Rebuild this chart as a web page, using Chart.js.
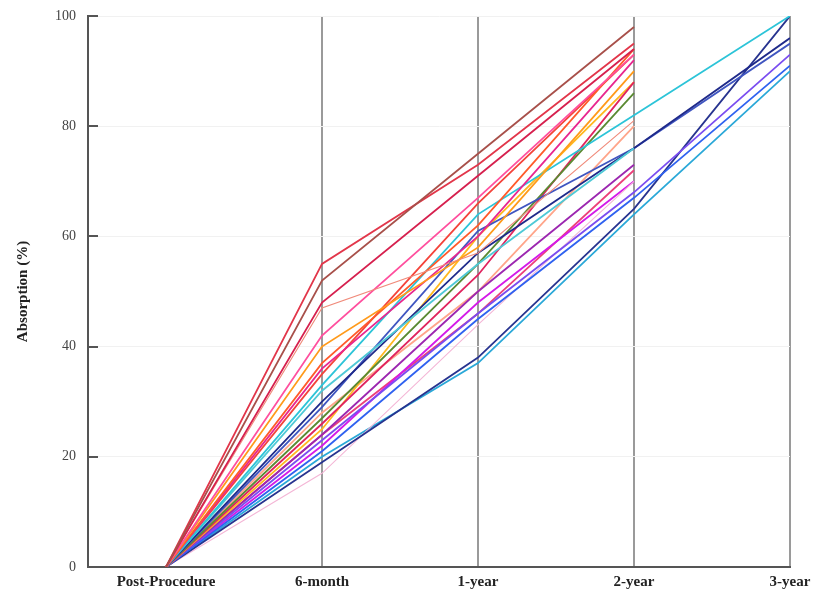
<!DOCTYPE html>
<html>
<head>
<meta charset="utf-8">
<script src="https://cdn.jsdelivr.net/npm/chart.js@4/dist/chart.umd.min.js"></script>
<style>
  html, body { margin: 0; padding: 0; background: #fff; }
  #wrap { width: 820px; height: 599px; }
</style>
</head>
<body>
<div id="wrap"><canvas id="myChart"></canvas></div>
<script>
// time points along the x axis
const timepoints = ['Post-Procedure', '6-month', '1-year', '2-year', '3-year']
const yTicks = [0, 20, 40, 60, 80, 100]

// absorption (%) per patient at each follow-up, everyone starts at 0
const postProc  = [0, 0, 0, 0, 0, 0, 0, 0, 0, 0, 0, 0, 0, 0, 0, 0, 0, 0, 0, 0, 0, 0, 0, 0, 0]
const sixMonth  = [52, 55, 48, 47, 42, 40, 37, 36, 33, 32, 30, 29, 27, 26, 25, 24, 23, 21, 19, 17, 22, 24, 20, 35, 28]
const oneYear   = [75, 73, 71, 57, 67, 58, 62, 60, 64, 55, 57, 61, 55, 53, 60, 50, 46, 45, 38, 44, 48, 46, 37, 66, 50]
const twoYear   = [98, 95, 94, 81, 93, 90, 94, 92, 82, 76, 76, 76, 86, 88, 88, 73, 68, 67, 65, 70, 70, 72, 64, 93, 80]
const threeYear = [null, null, null, null, null, null, null, null, 100, null, 96, 95, null, null, null, null, 93, 91, 100, null, null, null, 90, null, null]

const colors = ['#a8504a', '#e2364a', '#d6204e', '#f08a7a', '#ff4f9e', '#ff9a1a', '#ff5a2a', '#e8268f',
                '#2cc4d8', '#4fc9d6', '#1f2a8a', '#3f55c0', '#5a8a32', '#e0245e', '#ffb81f', '#9c27b0',
                '#7a4df0', '#2f62f0', '#27338f', '#f4b6d6', '#d41ae8', '#ec407a', '#2aa8d8', '#f4433a', '#ffa58a']

let datasets = []
for (let i = 0; i < colors.length; i++) {
  const vals = [postProc[i], sixMonth[i], oneYear[i], twoYear[i], threeYear[i]]
  datasets.push({
    label: 'P' + (i + 1),
    data: vals.map((v, k) => ({ x: k, y: v })),
    borderColor: colors[i],
    borderWidth: i == 3 || i == 19 ? 1.1 : 1.8,
    pointRadius: 0,
    tension: 0,
    fill: false
  })
}

// short tick marks pointing into the plot from the y axis
const innerTicks = {
  id: 'innerTicks',
  afterDraw(chart) {
    const c = chart.ctx
    const ys = chart.scales.y
    const left = chart.chartArea.left
    c.save()
    c.strokeStyle = '#555'
    c.lineWidth = 2
    yTicks.forEach(t => {
      const py = Math.round(ys.getPixelForValue(t))
      c.beginPath()
      c.moveTo(left, py)
      c.lineTo(left + 10, py)
      c.stroke()
    })
    c.restore()
  }
}

const ctx = document.getElementById('myChart')
new Chart(ctx, {
  type: 'line',
  data: { datasets: datasets },
  plugins: [innerTicks],
  options: {
    responsive: true,
    maintainAspectRatio: false,
    animation: false,
    layout: { padding: { top: 16, right: 30, left: 0, bottom: 0 } },
    plugins: { legend: { display: false }, tooltip: { enabled: false } },
    scales: {
      x: {
        type: 'linear',
        min: -0.5,
        max: 4,
        afterBuildTicks: (scale) => { scale.ticks = [0, 1, 2, 3, 4].map(v => ({ value: v })) },
        afterFit: (scale) => { scale.height = 32; scale.paddingRight = 0 },
        border: { display: true, color: '#555', width: 2 },
        grid: {
          color: (c) => (c.tick && c.tick.value >= 1 ? '#9a9a9a' : 'rgba(0,0,0,0)'),
          lineWidth: 2,
          drawTicks: false
        },
        ticks: {
          padding: 6,
          color: '#222',
          font: { family: 'Liberation Serif', size: 15, weight: 'bold' },
          callback: (v) => timepoints[v] || ''
        }
      },
      y: {
        min: 0,
        max: 100,
        afterBuildTicks: (scale) => { scale.ticks = yTicks.map(v => ({ value: v })) },
        afterFit: (scale) => { scale.width = 88; scale.paddingTop = 0; scale.paddingBottom = 0 },
        border: { display: true, color: '#555', width: 2 },
        grid: { color: '#f1f1f1', lineWidth: 1, drawTicks: false },
        ticks: {
          padding: 12,
          color: '#444',
          font: { family: 'Liberation Serif', size: 14 }
        },
        title: {
          display: true,
          text: 'Absorption (%)',
          color: '#222',
          padding: { top: 14, bottom: 0 },
          font: { family: 'Liberation Serif', size: 15, weight: 'bold' }
        }
      }
    }
  }
})
</script>
</body>
</html>
